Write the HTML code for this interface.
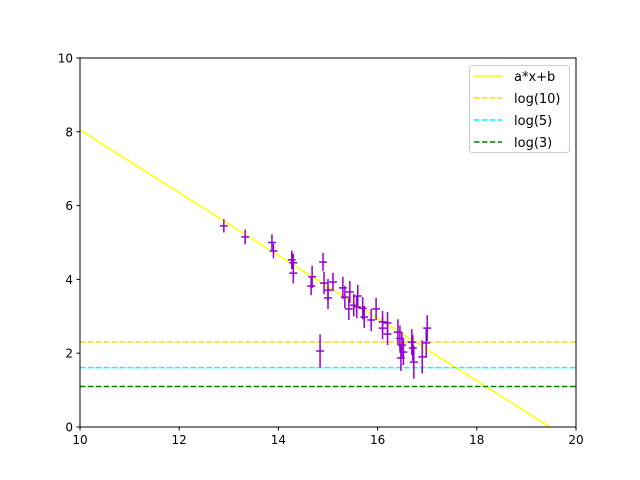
<!DOCTYPE html>
<html><head><meta charset="utf-8"><style>
html,body{margin:0;padding:0;background:#fff;}
svg{display:block;font-family:"DejaVu Sans","Liberation Sans",sans-serif;}
</style></head><body>
<svg id="chart" width="640" height="480" xmlns="http://www.w3.org/2000/svg">
<rect x="0" y="0" width="640" height="480" fill="#fff"/>
<g id="marks"></g>
<g id="axes"></g>
<g id="legend">
  <rect x="469.5" y="65.5" width="100" height="87" rx="3" fill="#fff" fill-opacity="0.8" stroke="#ccc"/>
  <line x1="474" y1="76" x2="502" y2="76" stroke="#ffff00" stroke-width="1.5"/>
  <text x="514" y="81" font-size="13">a*x+b</text>
  <line x1="474" y1="98" x2="502" y2="98" stroke="#ffd700" stroke-width="1.5" stroke-dasharray="5.5,2.4"/>
  <text x="514" y="103" font-size="13">log(10)</text>
  <line x1="474" y1="120" x2="502" y2="120" stroke="#00ffff" stroke-width="1.5" stroke-dasharray="5.5,2.4"/>
  <text x="514" y="125" font-size="13">log(5)</text>
  <line x1="474" y1="142" x2="502" y2="142" stroke="#008000" stroke-width="1.5" stroke-dasharray="5.5,2.4"/>
  <text x="514" y="147" font-size="13">log(3)</text>
</g>
</svg>
<script>
const xTicks=[10,12,14,16,18,20];
const yTicks=[0,2,4,6,8,10];
const fitA=-0.85, fitB=16.55;
const hLines=[2.303,1.609,1.099];
const hColors=["#ffd700","#00ffff","#008000"];
const hNames=["log10","log5","log3"];
const ptX=[12.9,13.33,13.87,13.9,14.27,14.3,14.3,14.68,14.66,14.9,14.84,14.92,15.0,15.0,15.1,15.3,15.34,15.44,15.42,15.52,15.6,15.58,15.7,15.73,15.87,15.97,16.1,16.1,16.2,16.2,16.41,16.45,16.49,16.52,16.47,16.69,16.71,16.73,16.9,16.98,17.0];
const ptY=[5.45,5.15,5.0,4.77,4.53,4.45,4.17,4.07,3.82,4.47,2.06,3.9,3.71,3.5,3.93,3.77,3.52,3.66,3.2,3.3,3.55,3.25,3.22,2.98,2.9,3.2,2.68,2.85,2.82,2.52,2.57,2.4,2.22,2.03,1.87,2.3,2.14,1.76,1.9,2.28,2.68];
const ptYErr=[0.18,0.2,0.22,0.2,0.25,0.25,0.28,0.3,0.25,0.25,0.45,0.3,0.3,0.3,0.25,0.3,0.3,0.3,0.3,0.3,0.3,0.3,0.3,0.3,0.3,0.3,0.3,0.3,0.3,0.3,0.35,0.35,0.35,0.35,0.35,0.35,0.35,0.45,0.45,0.4,0.35];
const ptXErr=0.08;
const L=80,R=576,T=58,B=427,xMin=10,xMax=20,yMin=0,yMax=10;
const sx=v=>L+(v-xMin)/(xMax-xMin)*(R-L);
const sy=v=>B-(v-yMin)/(yMax-yMin)*(B-T);
const NS="http://www.w3.org/2000/svg";
function mk(tag,attrs,parent){const e=document.createElementNS(NS,tag);for(const k in attrs)e.setAttribute(k,attrs[k]);parent.appendChild(e);return e;}
const marks=document.getElementById('marks'), axes=document.getElementById('axes');
const clip=mk('clipPath',{id:'cp'},marks);mk('rect',{x:L,y:T,width:R-L,height:B-T},clip);
const g=mk('g',{'clip-path':'url(#cp)'},marks);
const fit=mk('line',{x1:sx(xMin),y1:sy(fitA*xMin+fitB),x2:sx(xMax),y2:sy(fitA*xMax+fitB),stroke:'#ffff00','stroke-width':1.5},g);


hLines.forEach((v,i)=>{const l=mk('line',{x1:L,y1:sy(v),x2:R,y2:sy(v),stroke:hColors[i],'stroke-width':1.5,'stroke-dasharray':'5.5,2.4'},g);

});
ptX.forEach((x,i)=>{const y=ptY[i],e=ptYErr[i];
const pg=mk('g',{stroke:'#9400d3','stroke-width':1.5},g);


mk('line',{x1:sx(x),y1:sy(y-e),x2:sx(x),y2:sy(y+e)},pg);
mk('line',{x1:sx(x-ptXErr),y1:sy(y),x2:sx(x+ptXErr),y2:sy(y)},pg);});
const frame=mk('rect',{x:L,y:T,width:R-L,height:B-T,fill:'none',stroke:'#000','stroke-width':1},axes);


xTicks.forEach(v=>{mk('line',{x1:sx(v),y1:B,x2:sx(v),y2:B+3.5,stroke:'#000'},axes);
const t=mk('text',{x:sx(v),y:B+17,'font-size':12,'text-anchor':'middle'},axes);t.textContent=v;

});
yTicks.forEach(v=>{mk('line',{x1:L-3.5,y1:sy(v),x2:L,y2:sy(v),stroke:'#000'},axes);
const t=mk('text',{x:L-7,y:sy(v)+4.5,'font-size':12,'text-anchor':'end'},axes);t.textContent=v;

});
</script>
</body></html>
